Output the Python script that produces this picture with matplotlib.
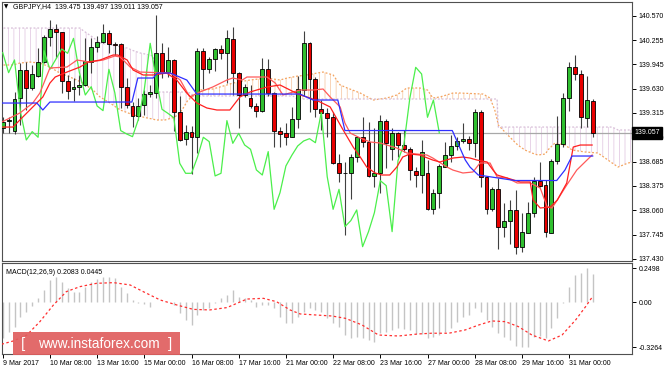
import matplotlib
matplotlib.use("Agg")
import matplotlib.pyplot as plt
from matplotlib.patches import Rectangle
from matplotlib.transforms import blended_transform_factory
import numpy as np

plt.rcParams['font.family'] = ['Liberation Sans', 'DejaVu Sans']
plt.rcParams['hatch.linewidth'] = 0.5

# --- header / labels ---
symbol = "GBPJPY,H4"
header_ohlc = "139.475 139.497 139.011 139.057"
macd_title = "MACD(12,26,9) 0.2083 0.0445"
last_price = 139.057

# --- H4 candles, 9 Mar 00:00 .. 31 Mar 16:00 ---
opens = [139.117, 139.211, 139.087, 139.504, 139.870, 139.633, 139.796, 139.977, 140.291, 140.399,
         140.360, 139.732, 139.624, 139.646, 139.676, 139.977, 140.171, 140.227, 140.343, 140.209,
         140.205, 139.654, 139.409, 139.276, 139.418, 139.560, 139.577, 140.093, 139.844, 139.999,
         139.332, 138.975, 139.074, 139.001, 140.119, 139.878, 140.007, 140.141, 140.085, 140.265,
         139.835, 139.547, 139.504, 139.405, 139.345, 139.878, 139.577, 139.087, 139.052, 139.009,
         139.233, 139.612, 140.222, 139.749, 139.366, 139.319, 139.259, 138.665, 138.544, 138.536,
         138.742, 139.001, 138.945, 138.502, 138.536, 139.211, 138.846, 139.052, 138.902, 138.846,
         138.570, 138.514, 138.536, 138.071, 138.286, 138.622, 138.768, 138.889, 138.953, 138.983,
         138.931, 139.323, 138.493, 138.071, 138.329, 137.847, 137.925, 138.063, 137.589, 137.770,
         138.028, 138.441, 138.385, 137.770, 138.699, 138.910, 139.504, 139.904, 139.818, 139.246,
         139.475]
highs = [139.259, 139.267, 139.590, 139.956, 139.977, 139.934, 140.149, 140.321, 140.515, 140.463,
         140.364, 139.805, 139.762, 139.805, 140.278, 140.278, 140.308, 140.459, 140.386, 140.227,
         140.214, 139.771, 139.461, 139.504, 139.612, 139.676, 140.579, 140.214, 140.162, 140.007,
         139.534, 139.160, 139.147, 140.149, 140.149, 140.042, 140.149, 140.192, 140.386, 140.429,
         139.848, 139.689, 139.676, 139.439, 140.020, 140.007, 139.590, 139.130, 139.181, 139.396,
         139.792, 140.377, 140.235, 139.784, 139.482, 139.375, 139.332, 138.785, 138.686, 138.785,
         139.018, 139.259, 139.203, 139.117, 139.289, 139.233, 139.117, 139.074, 139.095, 138.880,
         138.622, 138.966, 138.708, 138.329, 138.656, 138.945, 139.031, 139.001, 139.181, 139.018,
         139.362, 139.353, 138.502, 138.364, 138.471, 138.149, 138.192, 138.321, 138.020, 138.170,
         138.493, 138.686, 138.450, 138.717, 139.276, 139.577, 139.977, 140.063, 139.870, 139.792,
         139.497]
lows = [139.052, 139.052, 139.044, 139.160, 139.353, 139.612, 139.784, 139.956, 140.179, 140.020,
        139.568, 139.491, 139.474, 139.547, 139.663, 139.827, 140.106, 140.214, 140.085, 140.063,
        139.375, 139.375, 139.130, 139.224, 139.289, 139.525, 139.504, 139.762, 139.784, 139.087,
        138.957, 138.902, 138.527, 138.803, 139.620, 139.827, 139.861, 140.007, 139.698, 139.547,
        139.117, 139.517, 139.375, 139.259, 139.332, 139.534, 138.880, 138.871, 138.902, 139.001,
        139.117, 139.534, 139.332, 139.267, 139.095, 139.009, 138.656, 138.428, 137.740, 138.205,
        138.686, 138.880, 138.493, 138.364, 138.278, 138.601, 138.708, 138.751, 138.816, 138.450,
        138.364, 138.278, 138.063, 138.011, 138.084, 138.613, 138.686, 138.837, 138.923, 138.837,
        138.751, 138.355, 138.011, 138.054, 137.555, 137.718, 137.624, 137.495, 137.525, 137.761,
        137.968, 138.364, 137.710, 137.761, 138.656, 138.880, 139.340, 139.741, 139.117, 139.130,
        139.011]
closes = [139.203, 139.224, 139.491, 139.870, 139.633, 139.818, 139.977, 140.291, 140.399, 140.364,
          139.732, 139.603, 139.646, 139.676, 139.986, 140.171, 140.227, 140.343, 140.205, 140.192,
          139.654, 139.418, 139.276, 139.409, 139.560, 139.590, 140.093, 139.835, 139.999, 139.332,
          138.966, 139.074, 139.001, 140.119, 139.878, 140.007, 140.141, 140.085, 140.278, 139.835,
          139.547, 139.654, 139.405, 139.345, 139.878, 139.577, 139.087, 139.044, 139.009, 139.233,
          139.620, 140.214, 139.749, 139.362, 139.310, 139.254, 138.665, 138.536, 138.536, 138.742,
          139.001, 138.945, 138.502, 138.536, 139.216, 138.923, 139.052, 138.902, 138.846, 138.579,
          138.514, 138.816, 138.071, 138.286, 138.631, 138.768, 138.889, 138.953, 138.983, 138.931,
          139.323, 138.493, 138.071, 138.329, 137.847, 137.925, 138.063, 137.589, 137.783, 138.028,
          138.441, 138.377, 137.783, 138.699, 138.910, 139.504, 139.904, 139.818, 139.259, 139.482,
          139.057]

# --- Ichimoku lines (bar index, price) ---
kijun_x = [-0.3, 5.8, 6.8, 8.0, 21.9, 22.9, 25.5, 26.2, 28.4, 31.2, 32.9, 50.4, 52.6, 56.8, 58.0,
           76.2, 78.4, 79.2, 80.6, 84.0, 86.8, 93.9, 95.3, 96.5, 100.0]
kijun_y = [139.443, 139.443, 139.353, 139.456, 139.456, 139.766, 139.766, 139.830, 139.830, 139.740,
           139.559, 139.559, 139.482, 139.482, 139.088, 139.088, 138.708, 138.617, 138.514, 138.475,
           138.443, 138.443, 138.579, 138.759, 138.759]

tenkan_x = [-0.5, 1.75, 2.9, 5.1, 6.8, 8.0, 8.9, 10.9, 13.1, 14.5, 16.5, 18.7, 19.5, 21.1, 22.1,
            23.8, 25.5, 27.8, 29.5, 31.2, 32.9, 34.6, 36.3, 38.5, 40.2, 41.9, 44.8, 47.0, 48.7, 50.4,
            52.1, 53.8, 55.5, 57.7, 59.4, 60.6, 61.7, 63.1, 64.3, 65.6, 66.8, 67.8, 69.0, 70.7, 72.9,
            74.1, 76.3, 78.0, 79.2, 80.4, 82.1, 83.1, 83.8, 85.5, 87.7, 89.4, 89.9, 91.1, 92.8, 94.0,
            95.6, 96.7, 97.9, 99.9]
tenkan_y = [139.133, 139.133, 139.224, 139.392, 139.521, 139.701, 139.779, 139.843, 139.908, 139.972,
            139.998, 140.063, 140.063, 139.998, 139.869, 139.805, 139.805, 139.830, 139.740, 139.572,
            139.443, 139.379, 139.353, 139.353, 139.521, 139.585, 139.650, 139.676, 139.611, 139.547,
            139.508, 139.456, 139.392, 139.095, 138.875, 138.746, 138.617, 138.540, 138.514, 138.514,
            138.617, 138.746, 138.785, 138.772, 138.707, 138.682, 138.733, 138.746, 138.733, 138.707,
            138.682, 138.578, 138.514, 138.475, 138.424, 138.424, 138.191, 138.088, 138.101, 138.191,
            138.411, 138.875, 138.901, 138.901]

ma_x = [-0.5, 2.9, 5.1, 6.3, 8.0, 10.9, 12.6, 14.8, 17.0, 19.0, 19.9, 21.6, 23.3, 28.4, 30.1,
        31.7, 33.4, 35.6, 38.0, 39.0, 40.6, 41.4, 44.8, 46.2, 47.5, 50.4, 52.6, 54.3, 55.5, 57.2,
        58.0, 58.9, 60.6, 62.3, 64.0, 65.1, 66.8, 68.5, 70.2, 71.9, 72.9, 75.3, 76.3, 78.0, 79.7,
        80.9, 82.6, 83.8, 85.5, 87.2, 89.4, 91.1, 92.3, 93.1, 94.0, 95.6, 97.3, 99.9]
ma_y = [139.185, 139.314, 139.443, 139.572, 139.895, 139.908, 139.998, 139.972, 139.998, 140.050,
        140.037, 139.908, 139.843, 139.830, 139.740, 139.521, 139.585, 139.650, 139.740, 139.766,
        139.740, 139.779, 139.779, 139.701, 139.547, 139.611, 139.611, 139.624, 139.521, 139.392,
        139.185, 139.056, 138.991, 138.940, 138.927, 138.901, 138.862, 138.798, 138.785, 138.772,
        138.733, 138.617, 138.578, 138.540, 138.553, 138.669, 138.669, 138.488, 138.475, 138.411,
        138.411, 138.346, 138.101, 138.088, 138.191, 138.385, 138.578, 138.772]

# cloud (Senkou span A / B), read at shared bar positions
cloud_x = [-0.5, 1.75, 2.9, 4.6, 6.3, 8.0, 9.4, 11.4, 13.1, 13.6,
           15.3, 16.5, 18.2, 19.9, 21.1, 22.1, 23.3, 24.5, 25.5, 26.0,
           27.5, 29.2, 30.4, 31.4, 32.6, 33.4, 35.6, 38.0, 39.0, 41.9,
           44.8, 47.0, 48.2, 49.2, 49.9, 51.6, 53.3, 54.3, 56.0, 57.2,
           58.4, 60.6, 62.8, 65.1, 66.8, 68.5, 70.7, 72.0, 72.9, 74.1,
           76.3, 77.5, 81.4, 82.6, 83.4, 83.8, 84.0, 85.6, 87.3, 88.5,
           89.7, 90.7, 92.0, 92.4, 93.6, 95.3, 96.5, 98.7, 100.9, 102.1,
           103.3, 104.3, 106.0, 106.7]
span_a = [139.934, 139.934, 139.959, 139.972, 139.959, 139.908, 139.843, 139.779, 139.720, 139.701,
          139.611, 139.521, 139.443, 139.353, 139.320, 139.288, 139.270, 139.250, 139.235, 139.224,
          139.224, 139.262, 139.353, 139.482, 139.547, 139.611, 139.624, 139.676, 139.701, 139.740,
          139.766, 139.740, 139.766, 139.779, 139.790, 139.805, 139.830, 139.843, 139.805, 139.676,
          139.637, 139.572, 139.482, 139.508, 139.547, 139.637, 139.637, 139.611, 139.508, 139.521,
          139.572, 139.572, 139.559, 139.508, 139.353, 139.230, 139.159, 139.030, 138.901, 138.837,
          138.798, 138.772, 138.785, 138.837, 138.927, 138.901, 138.837, 138.811, 138.798, 138.733,
          138.669, 138.617, 138.669, 138.680]
span_b = [140.411, 140.411, 140.411, 140.411, 140.411, 140.411, 140.411, 140.411, 140.411, 140.380,
          140.290, 140.218, 140.195, 140.170, 140.153, 140.120, 140.089, 140.070, 140.050, 139.585,
          139.585, 139.585, 139.585, 139.585, 139.534, 139.534, 139.534, 139.534, 139.534, 139.534,
          139.534, 139.534, 139.534, 139.534, 139.495, 139.495, 139.495, 139.495, 139.495, 139.495,
          139.495, 139.495, 139.495, 139.495, 139.495, 139.495, 139.495, 139.495, 139.495, 139.495,
          139.495, 139.495, 139.495, 139.495, 139.495, 139.495, 139.133, 139.133, 139.133, 139.133,
          139.133, 139.133, 139.133, 139.133, 139.133, 139.133, 139.133, 139.133, 139.133, 139.133,
          139.133, 139.095, 139.095, 139.095]
chikou_shift = 26

# --- MACD(12,26,9): main value per bar + signal line ---
macd_main = [-0.260, -0.216, -0.175, -0.103, -0.066, -0.023, 0.030, 0.091, 0.163, 0.187,
             0.151, 0.103, 0.079, 0.079, 0.115, 0.151, 0.170, 0.187, 0.187, 0.175,
             0.115, 0.066, 0.018, -0.006, -0.013, -0.030, 0.006, 0.006, 0.006, -0.018,
             -0.079, -0.127, -0.163, -0.091, -0.054, -0.042, -0.006, 0.030, 0.054, 0.091,
             0.042, 0.030, 0.018, -0.030, -0.018, -0.018, -0.042, -0.103, -0.151, -0.151,
             -0.103, -0.066, -0.042, -0.054, -0.066, -0.115, -0.151, -0.175, -0.236, -0.260,
             -0.248, -0.255, -0.272, -0.289, -0.223, -0.211, -0.199, -0.187, -0.192, -0.199,
             -0.231, -0.231, -0.255, -0.248, -0.236, -0.211, -0.182, -0.139, -0.103, -0.091,
             -0.037, -0.066, -0.127, -0.175, -0.223, -0.248, -0.272, -0.313, -0.326, -0.320,
             -0.248, -0.240, -0.255, -0.187, -0.115, -0.006, 0.110, 0.199, 0.211, 0.250,
             0.2083]
signal_x = [-0.2, 1.8, 4.1, 6.3, 8.6, 10.8, 13.1, 15.9, 18.8, 21.6, 23.8, 26.7, 29.5, 32.3, 35.1,
            38.0, 39.7, 41.4, 44.2, 46.4, 48.7, 50.4, 53.2, 55.8, 58.1, 60.9, 63.7, 67.1, 70.5, 72.7,
            75.6, 78.4, 80.7, 82.9, 85.2, 87.4, 89.7, 92.5, 94.8, 97.1, 98.8, 100.0]
signal_y = [-0.303, -0.279, -0.236, -0.139, -0.018, 0.079, 0.115, 0.139, 0.144, 0.127, 0.079, 0.018,
            -0.018, -0.050, -0.054, -0.037, -0.006, 0.025, 0.030, 0.006, -0.054, -0.083, -0.091, -0.098,
            -0.115, -0.163, -0.236, -0.243, -0.228, -0.223, -0.223, -0.199, -0.163, -0.134, -0.139,
            -0.175, -0.236, -0.279, -0.236, -0.127, -0.030, 0.0445]

# --- axis labels ---
price_ticks = [140.570, 140.255, 139.945, 139.630, 139.315, 139.000, 138.685, 138.375, 138.060,
               137.745, 137.430]
macd_ticks = [0.2498, 0.0, -0.3264]
macd_tick_labels = ['0.2498', '0.00', '-0.3264']
time_labels = ['9 Mar 2017', '10 Mar 08:00', '13 Mar 16:00', '15 Mar 00:00', '16 Mar 08:00',
               '17 Mar 16:00', '21 Mar 00:00', '22 Mar 08:00', '23 Mar 16:00', '27 Mar 00:00',
               '28 Mar 08:00', '29 Mar 16:00', '31 Mar 00:00']
bars_per_label = 8

W, H = 664, 369
fig = plt.figure(figsize=(W / 100, H / 100), dpi=100)
fig.patch.set_facecolor('white')


def px_box(x0, y0, x1, y1):
    return [x0 / W, 1 - y1 / H, (x1 - x0) / W, (y1 - y0) / H]


ax = fig.add_axes(px_box(2, 1.7, 632, 261))
mx = fig.add_axes(px_box(2, 262.5, 632, 353.5))
xlim = (-0.12, 106.66)

# ---------------- price pane ----------------
o = np.array(opens)
h = np.array(highs)
l = np.array(lows)
c = np.array(closes)
idx = np.arange(len(c))

ca = np.array(span_a)
cb = np.array(span_b)
ax.fill_between(cloud_x, ca, cb, where=ca >= cb, interpolate=True, facecolor='none',
                edgecolor='#f6c29a', hatch='|||', linewidth=0, zorder=1)
ax.fill_between(cloud_x, ca, cb, where=cb > ca, interpolate=True, facecolor='none',
                edgecolor='#dfc2df', hatch='|||', linewidth=0, zorder=1)
ax.plot(cloud_x, span_a, color='#f4a460', lw=0.9, ls=(0, (1.5, 1.5)), zorder=2)
ax.plot(cloud_x, span_b, color='#d8bfd8', lw=0.9, ls=(0, (1.5, 1.5)), zorder=2)

ax.axhline(last_price, color='#a8a8a8', lw=0.9, zorder=2)

# candles
up = c >= o
body_lo = np.minimum(o, c)
body_h = np.maximum(np.abs(c - o), 0.008)
ax.vlines(idx, l, h, color='#404040', lw=0.8, zorder=3)
ax.bar(idx[up], body_h[up], 0.66, bottom=body_lo[up], color='#2fbf2f',
       edgecolor='black', linewidth=0.6, zorder=4)
ax.bar(idx[~up], body_h[~up], 0.66, bottom=body_lo[~up], color='#e80000',
       edgecolor='black', linewidth=0.6, zorder=4)

# indicator lines
ax.plot(idx[:len(c) - chikou_shift], c[chikou_shift:], color='#4bef4b', lw=0.9, zorder=5)
ax.plot(ma_x, ma_y, color='#ff5a5a', lw=0.9, zorder=5)
ax.plot(tenkan_x, tenkan_y, color='#ff1f1f', lw=0.9, zorder=5)
ax.plot(kijun_x, kijun_y, color='#2f2fff', lw=0.9, zorder=5)

ax.set_xlim(*xlim)
ax.set_ylim(137.404, 140.751)
ax.set_xticks([])
ax.yaxis.tick_right()
ax.set_yticks(price_ticks)
ax.set_yticklabels([f'{p:.3f}' for p in price_ticks])
ax.tick_params(axis='y', length=3, width=0.7, labelsize=5, pad=2)
for s in ax.spines.values():
    s.set_color('#505050')
    s.set_linewidth(0.8)

# last price marker on the scale
tr = blended_transform_factory(ax.transAxes, ax.transData)
ax.text(1.004, last_price, f'{last_price:.3f}', transform=tr, ha='left', va='center',
        color='white', fontsize=5, zorder=10, clip_on=False,
        bbox=dict(boxstyle='square,pad=0.3', fc='black', ec='black'))

# ---------------- MACD pane ----------------
mx.vlines(idx, 0, macd_main, color='#c4c4c4', lw=1.0, zorder=2)
mx.plot(signal_x, signal_y, color='#ff3030', lw=0.9, ls=(0, (2, 2)), zorder=3)
mx.set_xlim(*xlim)
mx.set_ylim(-0.370, 0.290)
mx.yaxis.tick_right()
mx.set_yticks(macd_ticks)
mx.set_yticklabels(macd_tick_labels)
mx.tick_params(axis='y', length=3, width=0.7, labelsize=5, pad=2)
mx.set_xticks(np.arange(len(time_labels)) * bars_per_label)
mx.set_xticklabels(time_labels, ha='left')
mx.tick_params(axis='x', length=3, width=0.7, labelsize=5, pad=1.5)
for s in mx.spines.values():
    s.set_color('#505050')
    s.set_linewidth(0.8)
mx.text(0.006, 0.93, macd_title, transform=mx.transAxes, fontsize=5, va='top', ha='left')

# header
fig.text(4 / W, 1 - 7 / H, '\u25bc', fontsize=4, family='DejaVu Sans', va='center', ha='left')
fig.text(13 / W, 1 - 7 / H, f'{symbol}  {header_ohlc}', fontsize=5, va='center', ha='left')

# watermark
fig.add_artist(Rectangle((13 / W, 1 - 355 / H), 167 / W, 23 / H, transform=fig.transFigure,
                         facecolor='#e05e5e', alpha=0.92, edgecolor='none', zorder=20))
fig.text(21 / W, 1 - 344 / H, '[', color='white', fontsize=11, va='center', ha='left', zorder=21)
fig.text(99 / W, 1 - 344 / H, 'www.instaforex.com', color='white', fontsize=9.8,
         va='center', ha='center', zorder=21)
fig.text(172 / W, 1 - 344 / H, ']', color='white', fontsize=11, va='center', ha='right', zorder=21)

fig.savefig('out.png', dpi=100)
